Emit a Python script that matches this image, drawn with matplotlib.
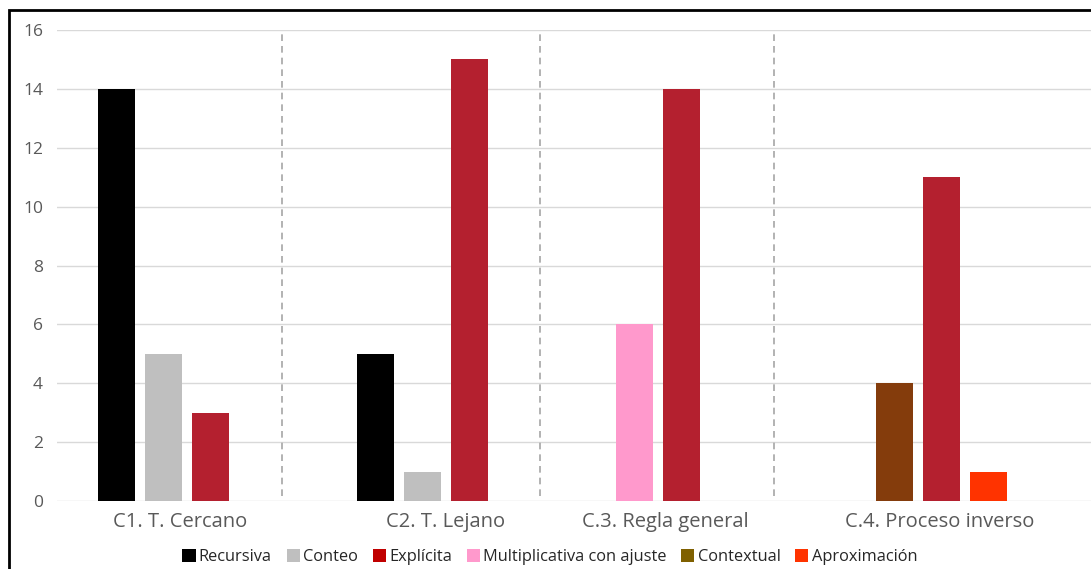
import matplotlib
matplotlib.use("Agg")
import matplotlib.pyplot as plt
from matplotlib.patches import Patch, Rectangle

plt.rcParams['font.family'] = ['Open Sans', 'DejaVu Sans']

# Categories and series
categories = ["C1. T. Cercano", "C2. T. Lejano", "C.3. Regla general", "C.4. Proceso inverso"]
series = ["Recursiva", "Conteo", "Explícita", "Multiplicativa con ajuste", "Contextual", "Aproximación"]

recursiva = [14, 5, 0, 0]
conteo = [5, 1, 0, 0]
explicita = [3, 15, 14, 11]
multiplicativa = [0, 0, 6, 0]
contextual = [0, 0, 0, 4]
aproximacion = [0, 0, 0, 1]

yticks = [0, 2, 4, 6, 8, 10, 12, 14, 16]

values = [recursiva, conteo, explicita, multiplicativa, contextual, aproximacion]
bar_colors = ["#000000", "#BFBFBF", "#B4202F", "#FF99CC", "#843C0C", "#FF3300"]
legend_colors = ["#000000", "#BFBFBF", "#C00000", "#FF99CC", "#7F6000", "#FF3300"]

# Order in which the bars of each category fill the three slots
slot_order = [
    ["Recursiva", "Conteo", "Explícita"],
    ["Recursiva", "Conteo", "Explícita"],
    ["Multiplicativa con ajuste", "Explícita"],
    ["Contextual", "Explícita", "Aproximación"],
]

W, H, DPI = 1091, 569, 100
fig = plt.figure(figsize=(W / DPI, H / DPI), dpi=DPI)

left_px, right_px, top_px, bottom_px = 57, 1091, 30, 501
ax = fig.add_axes([left_px / W, 1 - bottom_px / H,
                   (right_px - left_px) / W, (bottom_px - top_px) / H])

group_px = 259.5
slot_px = 47.0
bar_px = 37.0
first_center_px = 163.0

slot_step = slot_px / group_px
bar_w = bar_px / group_px

for g, order in enumerate(slot_order):
    for s, name in enumerate(order):
        k = series.index(name)
        v = values[k][g]
        ax.bar(g + (s - 1) * slot_step, v, width=bar_w, color=bar_colors[k],
               edgecolor="none", zorder=3)

ax.set_xlim((left_px - first_center_px) / group_px, (right_px - first_center_px) / group_px)
ax.set_ylim(0, 16)
ax.set_yticks(yticks)
ax.set_yticklabels([str(t) for t in yticks])
ax.grid(axis="y", color="#D9D9D9", linewidth=1.0, zorder=0)
ax.tick_params(axis="y", length=0, pad=10, labelsize=12.5, labelcolor="#595959")

# Category labels
label_px = [180, 446, 665, 940]
ax.set_xticks([(p - first_center_px) / group_px for p in label_px])
ax.set_xticklabels(categories)
ax.tick_params(axis="x", length=0, pad=8, labelsize=14.5, labelcolor="#595959")

for sp in ax.spines.values():
    sp.set_visible(False)

# Dashed separators between categories
for p in [282, 540, 774]:
    ax.axvline((p - first_center_px) / group_px, ymin=0.01, ymax=0.995,
               color="#A6A6A6", linestyle=(0, (4, 3)), linewidth=1.2, zorder=2)

# Legend
handles = [Patch(facecolor=c, edgecolor="none") for c in legend_colors]
leg = fig.legend(handles, series, loc="center", bbox_to_anchor=(0.504, 1 - 557 / H),
                 ncol=6, frameon=False, fontsize=11.8, handlelength=0.8, handleheight=0.8,
                 handletextpad=0.2, columnspacing=0.9, borderaxespad=0)
for t in leg.get_texts():
    t.set_color("#262626")

# Outer frame
fig.patches.append(Rectangle((9 / W, -0.05), 1.2, 1 - 10 / H + 0.05,
                             transform=fig.transFigure, fill=False,
                             edgecolor="#000000", linewidth=2.0))

fig.savefig("out.png", dpi=DPI)
